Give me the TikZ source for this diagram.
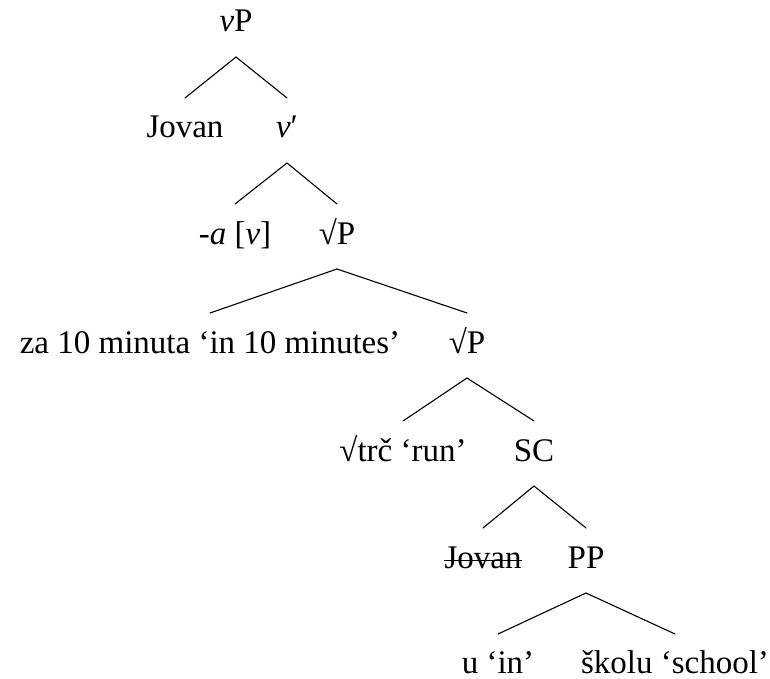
\documentclass[tikz,border=0pt]{standalone}
\usepackage{fontspec}
\setmainfont{Liberation Serif}
\begin{document}
\begin{tikzpicture}[x=1pt,y=-1pt,
  lbl/.style={anchor=base,inner sep=0pt,text depth=0pt,font=\fontsize{33}{40}\selectfont},
  branch/.style={line width=1.1pt,line cap=round}]
\useasboundingbox (0,0) rectangle (770,679);
% nodes
\node[lbl] (vP)   at (236,32)  {\textit{v}P};
\node[lbl] (jov)  at (185,138) {Jovan};
\node[lbl] (vbar) at (287,138) {\textit{v}′};
\node[lbl] (av)   at (235,244) {-\textit{a} [\textit{v}]};
\node[lbl] (rP1)  at (337,244) {√P};
\node[lbl] (za)   at (210,353) {za 10 minuta ‘in 10 minutes’};
\node[lbl] (rP2)  at (467,353) {√P};
\node[lbl] (trc)  at (403,461) {√trč ‘run’};
\node[lbl] (SC)   at (534,461) {SC};
\node[lbl] (jov2) at (483,568) {Jovan};
\node[lbl] (PP)   at (586,568) {PP};
\node[lbl] (u)    at (498,673) {u ‘in’};
\node[lbl] (sk)   at (675,673) {školu ‘school’};
% strike-through
\draw[line width=1pt] ([yshift=8pt]jov2.base west) -- ([yshift=8pt]jov2.base east);
% branches
\foreach \p/\c in {vP/jov,vP/vbar,vbar/av,vbar/rP1,rP1/za,rP1/rP2,rP2/trc,rP2/SC,SC/jov2,SC/PP}
  \draw[branch] ([yshift=-25pt]\p.base) -- ([yshift=40pt]\c.base);
\foreach \p/\c in {PP/u,PP/sk}
  \draw[branch] ([yshift=-25pt]\p.base) -- ([yshift=39pt]\c.base);
\end{tikzpicture}
\end{document}
